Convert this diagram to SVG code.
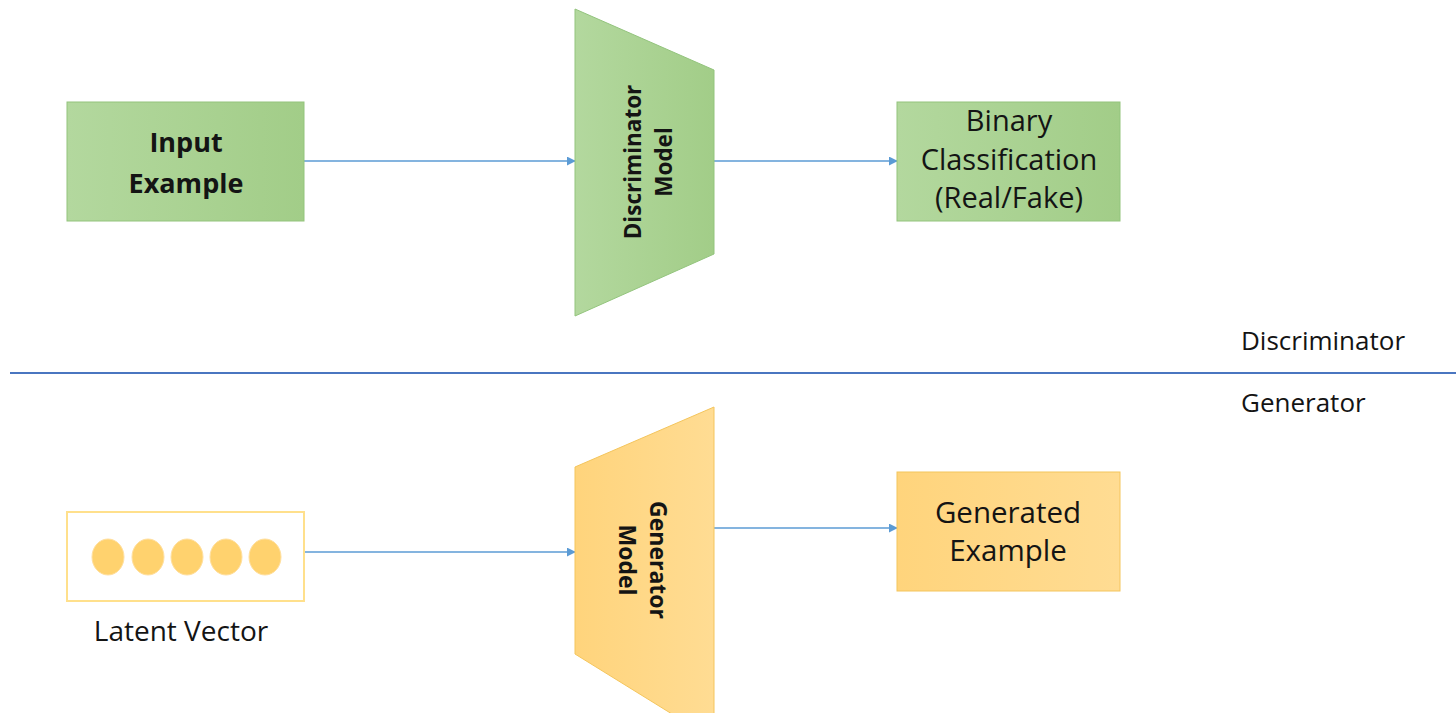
<svg xmlns="http://www.w3.org/2000/svg" width="1456" height="713" viewBox="0 0 1456 713">
  <style>
    .lbl { font-family: "Open Sans", "Noto Sans", "Liberation Sans", sans-serif; fill: #141414; }
    .bold { font-weight: bold; }
    .link { stroke: #5b9bd5; stroke-width: 1.5; fill: none; marker-end: url(#arrow); }
    .green { fill: url(#gGreen); stroke: #93c47d; stroke-width: 1; }
    .amber { fill: url(#gAmber); stroke: #f4c55c; stroke-width: 1; }
    .dot { fill: #ffd26e; stroke: #ffe0a0; stroke-width: 1; }
  </style>
  <defs>
    <linearGradient id="gGreen" x1="0" y1="0" x2="1" y2="0">
      <stop offset="0" stop-color="#b3d89e"/>
      <stop offset="1" stop-color="#a2cd88"/>
    </linearGradient>
    <linearGradient id="gAmber" x1="0" y1="0" x2="1" y2="0">
      <stop offset="0" stop-color="#ffd47c"/>
      <stop offset="1" stop-color="#ffdc93"/>
    </linearGradient>
    <marker id="arrow" viewBox="0 0 10 10" refX="9" refY="5" markerWidth="6" markerHeight="6" markerUnits="strokeWidth" orient="auto">
      <path d="M0,0 L10,5 L0,10 z" fill="#5b9bd5"/>
    </marker>
  </defs>

  <rect width="1456" height="713" fill="#ffffff"/>

  <!-- connectors -->
  <g id="connectors">
    <line class="link" x1="304" y1="161" x2="575" y2="161"/>
    <line class="link" x1="714" y1="161" x2="897" y2="161"/>
    <line class="link" x1="304" y1="552" x2="575" y2="552"/>
    <line class="link" x1="714" y1="528" x2="897" y2="528"/>
  </g>

  <!-- section divider -->
  <g id="divider">
    <line x1="10" y1="373" x2="1456" y2="373" stroke="#4a76c0" stroke-width="2"/>
    <text class="lbl" x="1241" y="350" font-size="26">Discriminator</text>
    <text class="lbl" x="1241" y="412" font-size="26">Generator</text>
  </g>

  <!-- discriminator path -->
  <g id="input-example">
    <rect class="green" x="67" y="102" width="237" height="119"/>
    <text class="lbl bold" x="186" y="152" font-size="27" text-anchor="middle">Input</text>
    <text class="lbl bold" x="186" y="193" font-size="27" text-anchor="middle">Example</text>
  </g>

  <g id="discriminator-model">
    <polygon class="green" points="575,9 714,70 714,254 575,316"/>
    <g transform="translate(644,162) rotate(-90)">
      <text class="lbl bold" x="0" y="-3" font-size="22.5" text-anchor="middle">Discriminator</text>
      <text class="lbl bold" x="0" y="28" font-size="22.5" text-anchor="middle">Model</text>
    </g>
  </g>

  <g id="binary-classification">
    <rect class="green" x="897" y="102" width="223" height="119"/>
    <text class="lbl" x="1009" y="131" font-size="29" text-anchor="middle">Binary</text>
    <text class="lbl" x="1009" y="170" font-size="29" text-anchor="middle">Classification</text>
    <text class="lbl" x="1009" y="208" font-size="29" text-anchor="middle">(Real/Fake)</text>
  </g>

  <!-- generator path -->
  <g id="latent-vector">
    <rect x="67" y="512" width="237" height="89" fill="#ffffff" stroke="#ffe08c" stroke-width="2"/>
    <ellipse class="dot" cx="108" cy="557" rx="16" ry="18"/>
    <ellipse class="dot" cx="148" cy="557" rx="16" ry="18"/>
    <ellipse class="dot" cx="187" cy="557" rx="16" ry="18"/>
    <ellipse class="dot" cx="226" cy="557" rx="16" ry="18"/>
    <ellipse class="dot" cx="265" cy="557" rx="16" ry="18"/>
    <text class="lbl" x="181" y="641" font-size="28" text-anchor="middle">Latent Vector</text>
  </g>

  <g id="generator-model">
    <polygon class="amber" points="575,467 714,407 714,740 575,654"/>
    <g transform="translate(644,560) rotate(90)">
      <text class="lbl bold" x="0" y="-6" font-size="23" text-anchor="middle">Generator</text>
      <text class="lbl bold" x="0" y="25" font-size="23" text-anchor="middle">Model</text>
    </g>
  </g>

  <g id="generated-example">
    <rect class="amber" x="897" y="472" width="223" height="119"/>
    <text class="lbl" x="1008" y="523" font-size="29.5" text-anchor="middle">Generated</text>
    <text class="lbl" x="1008" y="561" font-size="29.5" text-anchor="middle">Example</text>
  </g>
</svg>
